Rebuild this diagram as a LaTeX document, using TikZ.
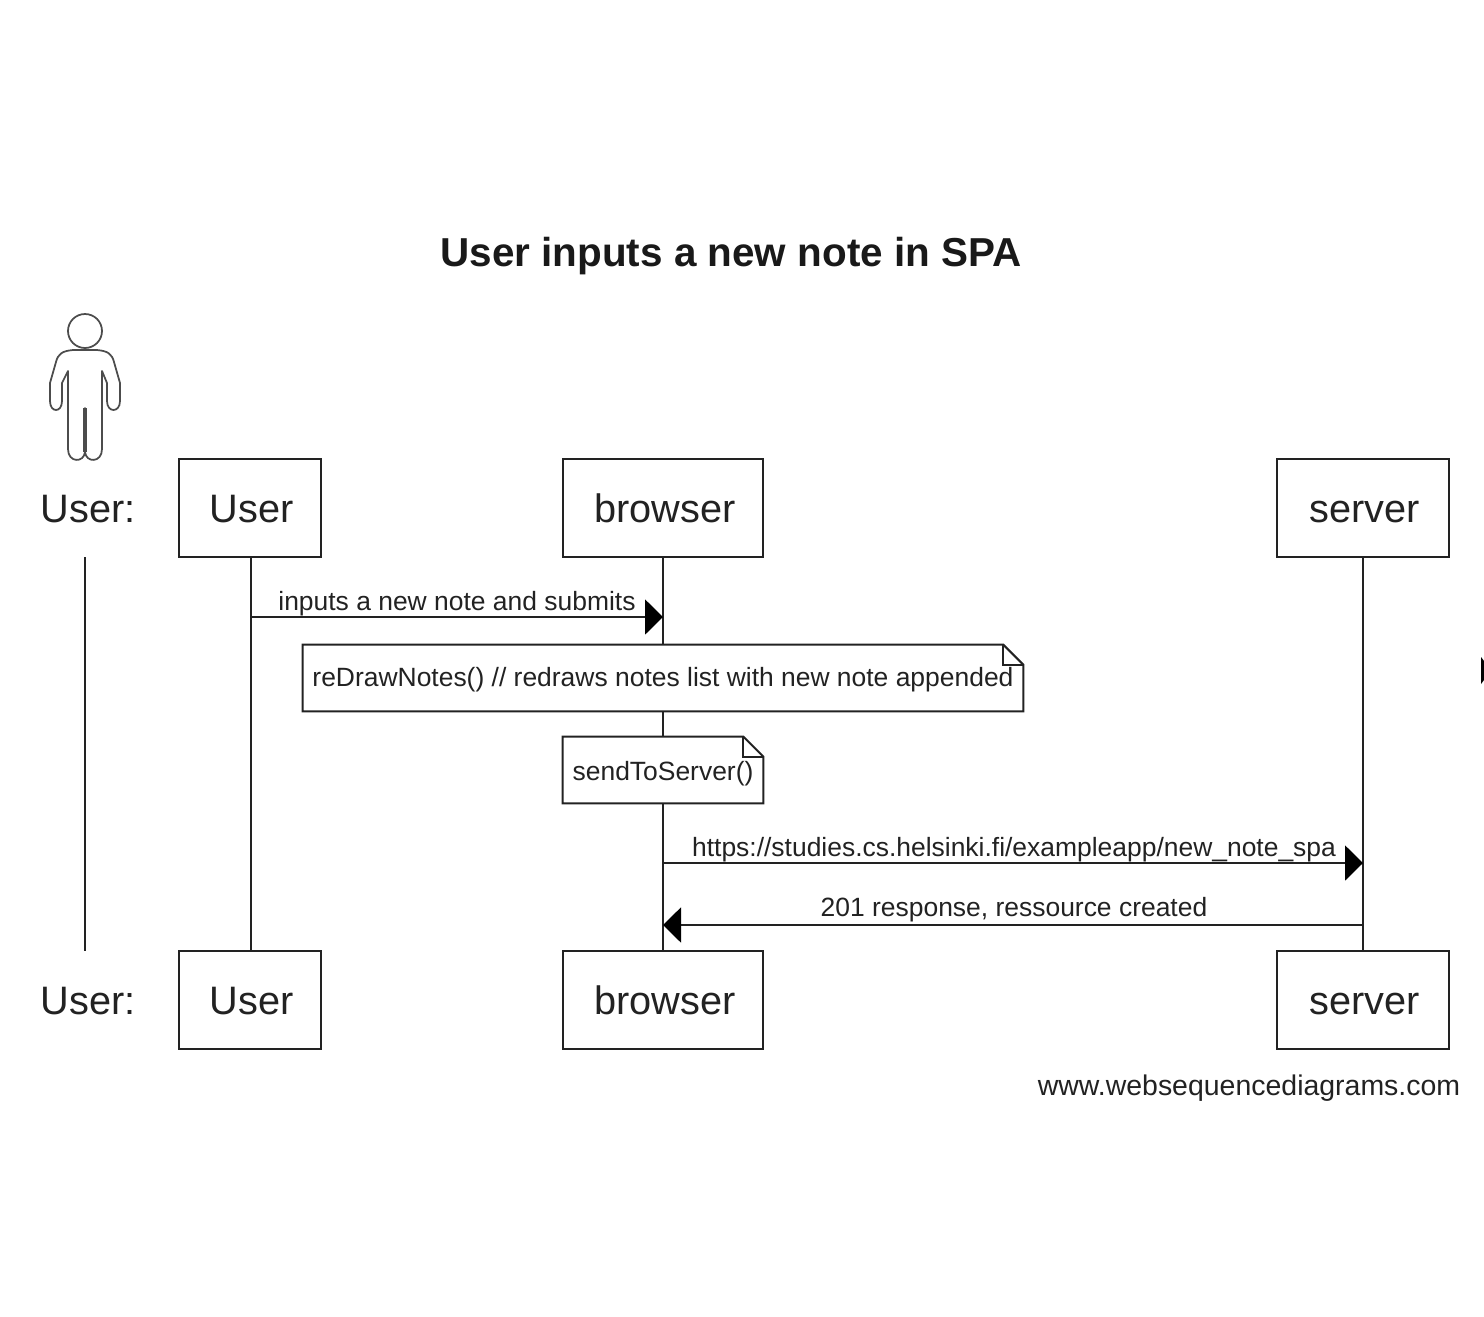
\documentclass[tikz,border=0pt]{standalone}
\usepackage{fontspec}
\setmainfont{Liberation Sans}
\usetikzlibrary{arrows.meta}
\usetikzlibrary{positioning}
\definecolor{inkline}{HTML}{222222}
\tikzset{msg/.style = {inkline, line width=0.04cm, -{Triangle[length=0.36cm, width=0.7cm, color=black]}}}
\tikzset{lifeline/.style = {inkline, line width=0.04cm}}
\tikzset{partbox/.style = {draw=inkline, line width=0.04cm, fill=white, minimum height=1.96cm, inner sep=0pt, text=inkline, text height=16.4pt, text depth=0pt, execute at begin node=\kern2pt, font=\fontsize{22.6}{26}\selectfont}}
\tikzset{partlabel/.style = {inner sep=0pt, text height=16.4pt, text depth=0pt, font=\fontsize{22.6}{26}\selectfont, text=inkline}}
\tikzset{msglabel/.style = {inner sep=0pt, text height=10pt, text depth=0pt, font=\fontsize{15.05}{18}\selectfont, text=inkline}}
\tikzset{notebox/.style = {fill=white, inner sep=0pt, minimum height=1.32cm, text height=10pt, text depth=0pt, font=\fontsize{15.05}{18}\selectfont, text=inkline}}
\tikzset{noteline/.style = {inkline, line width=0.04cm, line join=miter}}
\begin{document}
\begin{tikzpicture}[x=0.02cm, y=-0.02cm]
				\useasboundingbox (0, 0) rectangle (1484, 1316);
				\node [inner sep=0pt, text height=16pt, text depth=0pt, font=\bfseries\fontsize{23}{27}\selectfont, text=black!90] (title) at (731, 252) {User inputs a new note in SPA};
				% actor
				\draw [black!70, line width=0.035cm] (85, 331) circle (17);
				\draw [black!70, line width=0.035cm, line join=round]
					(73, 350) -- (97, 350) .. controls (108, 351) and (112, 354) .. (114, 362) -- (120, 383) -- (120, 401)
					.. controls (120, 413) and (107, 413) .. (107, 401) -- (107, 383) -- (102, 371)
					-- (102, 449) .. controls (102, 463) and (86, 463) .. (85, 452) -- (85, 408) -- (85, 452)
					.. controls (84, 463) and (68, 463) .. (68, 449) -- (68, 371)
					-- (62, 383) -- (62, 401) .. controls (62, 413) and (50, 413) .. (50, 401)
					-- (50, 383) -- (56, 362) .. controls (58, 354) and (62, 351) .. (73, 350) -- cycle;
				\draw [black!70, line width=0.07cm] (85, 408) -- (85, 452);
				\node [partlabel] (0) at (88, 508) {User:};
				\node [partlabel] (1) at (88, 1000) {User:};
				\coordinate (2) at (85, 557);
				\coordinate (3) at (85, 951);
				\draw [lifeline] (2) to (3);
				% participants
				\node [partbox, minimum width=2.84cm] (4) at (250, 508) {User};
				\node [partbox, minimum width=4cm] (5) at (663, 508) {browser};
				\node [partbox, minimum width=3.44cm] (6) at (1363, 508) {server};
				\node [partbox, minimum width=2.84cm] (7) at (250, 1000) {User};
				\node [partbox, minimum width=4cm] (8) at (663, 1000) {browser};
				\node [partbox, minimum width=3.44cm] (9) at (1363, 1000) {server};
				\draw [lifeline] ([xshift=0.02cm]4.south) to ([xshift=0.02cm]7.north);
				\draw [lifeline] (5.south) to (8.north);
				\draw [lifeline] (6.south) to (9.north);
				% notes
				\node [notebox, minimum width=14.4cm] (note1) at (663, 678) {reDrawNotes() // redraws notes list with new note appended};
				\node [notebox, minimum width=4cm] (note2) at (663, 770) {\raisebox{-1pt}{sendToServer()}};
				\foreach \n in {note1, note2} {
					\draw [noteline] (\n.south west) -- (\n.north west) -- ([xshift=-0.4cm]\n.north east) -- ([yshift=-0.4cm]\n.north east) -- (\n.south east) -- cycle;
					\draw [noteline] ([xshift=-0.4cm]\n.north east) -- ([xshift=-0.4cm, yshift=-0.4cm]\n.north east) -- ([yshift=-0.4cm]\n.north east);
				}
				% messages
				\coordinate (10) at (251, 617);
				\coordinate (11) at (663, 617);
				\coordinate (12) at (663, 863);
				\coordinate (13) at (1363, 863);
				\coordinate (14) at (1363, 925);
				\coordinate (15) at (663, 925);
				\draw [msg] (10) to (11);
				\draw [msg] (12) to (13);
				\draw [msg] (14) to (15);
				\node [msglabel] (16) at (457, 602) {inputs a new note and submits};
				\node [msglabel] (17) at (1014, 848) {https://studies.cs.helsinki.fi/exampleapp/new\_note\_spa};
				\node [msglabel] (18) at (1014, 908) {201 response, ressource created};
				\node [msglabel, font=\fontsize{16.2}{19}\selectfont] (19) at (1249, 1087) {www.websequencediagrams.com};
				% stray mark at the right edge
				\fill [black] (1481, 657) -- (1484, 661) -- (1484, 680) -- (1481, 684) -- cycle;
		\end{tikzpicture}
\end{document}
